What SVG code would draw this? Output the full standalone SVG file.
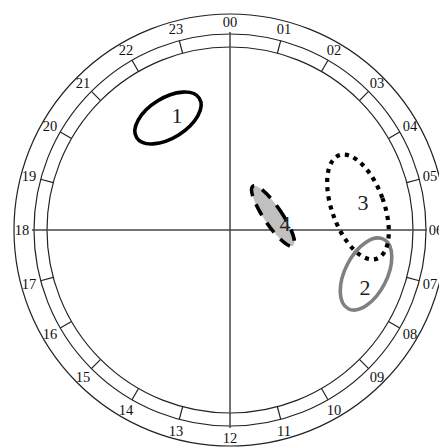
<svg xmlns="http://www.w3.org/2000/svg" width="439" height="448" viewBox="0 0 439 448">
<style>
.ring{fill:none;stroke:#222;stroke-width:1.2}
.tick{stroke:#222;stroke-width:1.2}
.axis{stroke:#444;stroke-width:1.5}
.hr{font-family:"Liberation Serif",serif;font-size:14.5px;fill:#111;text-anchor:middle;dominant-baseline:central}
.lbl{font-family:"Liberation Serif",serif;font-size:22px;fill:#222;text-anchor:middle;dominant-baseline:central}
</style>
<rect width="439" height="448" fill="#fff"/>
<g id="dial">
<circle class="ring" cx="230" cy="230" r="216"/>
<circle class="ring" cx="230" cy="230" r="196"/>
<circle class="ring" cx="230" cy="230" r="183"/>
<g id="ticks">
<line class="tick" x1="230" y1="34" x2="230" y2="47" transform="rotate(15 230 230)"/>
<line class="tick" x1="230" y1="34" x2="230" y2="47" transform="rotate(30 230 230)"/>
<line class="tick" x1="230" y1="34" x2="230" y2="47" transform="rotate(45 230 230)"/>
<line class="tick" x1="230" y1="34" x2="230" y2="47" transform="rotate(60 230 230)"/>
<line class="tick" x1="230" y1="34" x2="230" y2="47" transform="rotate(75 230 230)"/>
<line class="tick" x1="230" y1="34" x2="230" y2="47" transform="rotate(105 230 230)"/>
<line class="tick" x1="230" y1="34" x2="230" y2="47" transform="rotate(120 230 230)"/>
<line class="tick" x1="230" y1="34" x2="230" y2="47" transform="rotate(135 230 230)"/>
<line class="tick" x1="230" y1="34" x2="230" y2="47" transform="rotate(150 230 230)"/>
<line class="tick" x1="230" y1="34" x2="230" y2="47" transform="rotate(165 230 230)"/>
<line class="tick" x1="230" y1="34" x2="230" y2="47" transform="rotate(195 230 230)"/>
<line class="tick" x1="230" y1="34" x2="230" y2="47" transform="rotate(210 230 230)"/>
<line class="tick" x1="230" y1="34" x2="230" y2="47" transform="rotate(225 230 230)"/>
<line class="tick" x1="230" y1="34" x2="230" y2="47" transform="rotate(240 230 230)"/>
<line class="tick" x1="230" y1="34" x2="230" y2="47" transform="rotate(255 230 230)"/>
<line class="tick" x1="230" y1="34" x2="230" y2="47" transform="rotate(285 230 230)"/>
<line class="tick" x1="230" y1="34" x2="230" y2="47" transform="rotate(300 230 230)"/>
<line class="tick" x1="230" y1="34" x2="230" y2="47" transform="rotate(315 230 230)"/>
<line class="tick" x1="230" y1="34" x2="230" y2="47" transform="rotate(330 230 230)"/>
<line class="tick" x1="230" y1="34" x2="230" y2="47" transform="rotate(345 230 230)"/>
</g>
<line class="axis" x1="32" y1="230" x2="427" y2="230"/>
<line class="axis" x1="230" y1="32" x2="230" y2="428"/>
<g id="hours">
<text class="hr" x="230" y="22">00</text>
<text class="hr" x="284" y="29">01</text>
<text class="hr" x="334" y="50">02</text>
<text class="hr" x="377" y="83">03</text>
<text class="hr" x="410" y="126">04</text>
<text class="hr" x="430" y="176">05</text>
<text class="hr" x="436" y="230">06</text>
<text class="hr" x="430" y="284">07</text>
<text class="hr" x="410" y="334">08</text>
<text class="hr" x="377" y="377">09</text>
<text class="hr" x="334" y="410">10</text>
<text class="hr" x="284" y="431">11</text>
<text class="hr" x="230" y="438">12</text>
<text class="hr" x="176" y="431">13</text>
<text class="hr" x="126" y="410">14</text>
<text class="hr" x="83" y="377">15</text>
<text class="hr" x="50" y="334">16</text>
<text class="hr" x="29" y="284">17</text>
<text class="hr" x="22" y="230">18</text>
<text class="hr" x="29" y="176">19</text>
<text class="hr" x="50" y="126">20</text>
<text class="hr" x="83" y="83">21</text>
<text class="hr" x="126" y="50">22</text>
<text class="hr" x="176" y="29">23</text>
</g>
</g>
<g id="region1">
<ellipse cx="168" cy="118" rx="37" ry="20" transform="rotate(-32 168 118)" fill="none" stroke="#000" stroke-width="3.6"/>
<text class="lbl" x="177" y="115">1</text>
</g>
<g id="region2">
<ellipse cx="366" cy="274" rx="21" ry="39" transform="rotate(27 366 274)" fill="none" stroke="#808080" stroke-width="3.6"/>
<text class="lbl" x="365" y="287">2</text>
</g>
<g id="region3">
<ellipse cx="358" cy="207" rx="26" ry="55" transform="rotate(-20 358 207)" fill="none" stroke="#000" stroke-width="4.2" stroke-dasharray="4.2 5"/>
<text class="lbl" x="363" y="202">3</text>
</g>
<g id="region4">
<ellipse cx="273" cy="216" rx="9" ry="36" transform="rotate(-34 273 216)" fill="#c0c0c0" stroke="#000" stroke-width="3.6" stroke-dasharray="12 9"/>
<text class="lbl" x="285" y="223">4</text>
</g>
</svg>
